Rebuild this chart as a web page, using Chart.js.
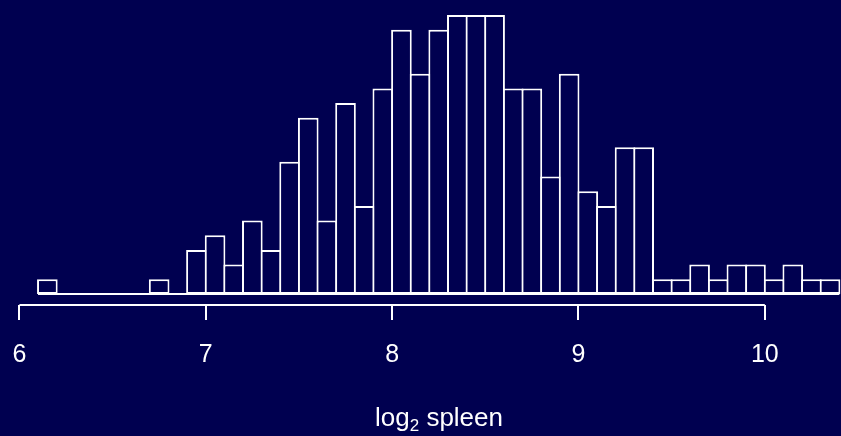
<!DOCTYPE html>
<html>
<head>
<meta charset="utf-8">
<script src="https://cdn.jsdelivr.net/npm/chart.js@4/dist/chart.umd.min.js"></script>
<style>
  html, body { margin: 0; padding: 0; background: #000050; }
</style>
</head>
<body>
<canvas id="spleenChart" width="841" height="436"></canvas>
<script>
// histogram of log2 spleen: left edge of each bin and its count
const binStarts = [6.1, 6.2, 6.3, 6.4, 6.5, 6.6, 6.7, 6.8, 6.9,
                   7.0, 7.1, 7.2, 7.3, 7.4, 7.5, 7.6, 7.7, 7.8, 7.9,
                   8.0, 8.1, 8.2, 8.3, 8.4, 8.5, 8.6, 8.7, 8.8, 8.9,
                   9.0, 9.1, 9.2, 9.3, 9.4, 9.5, 9.6, 9.7, 9.8, 9.9,
                   10.0, 10.1, 10.2, 10.3];
const binCounts = [1, 0, 0, 0, 0, 0, 1, 0, 3,
                   4, 2, 5, 3, 9, 12, 5, 13, 6, 14,
                   18, 15, 18, 19, 19, 19, 14, 14, 8, 15,
                   7, 6, 10, 10, 1, 1, 2, 1, 2, 2,
                   1, 2, 1, 1];
const binWidth = 0.1;
const xTicks = [6, 7, 8, 9, 10];
// axis title "log2 spleen" with the 2 as subscript
const titleParts = ["log", "2", " spleen"];

const BG = "#000050";
const FG = "#ffffff";
const FONT = "'Liberation Sans', Arial, sans-serif";
const LW = 2;

// bars drawn at bin centres
const barData = binStarts.map((s, i) => ({ x: s + binWidth / 2, y: binCounts[i] }));
// zero line under the whole histogram
const baseData = [
  { x: binStarts[0], y: 0 },
  { x: binStarts[binStarts.length - 1] + binWidth, y: 0 }
];

// paint background
const bgPlugin = {
  id: "bg",
  beforeDraw(chart) {
    const ctx = chart.ctx;
    ctx.save();
    ctx.fillStyle = BG;
    ctx.fillRect(0, 0, chart.width, chart.height);
    ctx.restore();
  }
};

// R-style axis line (first to last tick) and the axis title with subscript
const axisPlugin = {
  id: "axisExtras",
  afterDraw(chart) {
    const s = chart.scales.x;
    const ctx = chart.ctx;
    ctx.save();
    ctx.strokeStyle = FG;
    ctx.lineWidth = LW;
    ctx.beginPath();
    ctx.moveTo(s.getPixelForValue(xTicks[0]), s.top);
    ctx.lineTo(s.getPixelForValue(xTicks[xTicks.length - 1]), s.top);
    ctx.stroke();

    // title
    const big = "26px " + FONT, small = "17px " + FONT;
    ctx.fillStyle = FG;
    ctx.textBaseline = "alphabetic";
    ctx.textAlign = "left";
    ctx.font = big;
    const w0 = ctx.measureText(titleParts[0]).width;
    const w2 = ctx.measureText(titleParts[2]).width;
    ctx.font = small;
    const w1 = ctx.measureText(titleParts[1]).width;
    const total = w0 + w1 + w2;
    const cx = 439;
    const base = 426;
    let x = cx - total / 2;
    ctx.font = big;
    ctx.fillText(titleParts[0], x, base);
    x += w0;
    ctx.font = small;
    ctx.fillText(titleParts[1], x, base + 5);
    x += w1;
    ctx.font = big;
    ctx.fillText(titleParts[2], x, base);
    ctx.restore();
  }
};

new Chart(document.getElementById("spleenChart"), {
  type: "bar",
  data: {
    datasets: [
      {
        type: "bar",
        data: barData,
        backgroundColor: BG,
        borderColor: FG,
        borderWidth: LW,
        borderSkipped: false,
        barPercentage: 1.107,
        categoryPercentage: 1
      },
      {
        type: "line",
        data: baseData,
        borderColor: FG,
        borderWidth: LW,
        pointRadius: 0,
        clip: false
      }
    ]
  },
  options: {
    responsive: false,
    animation: false,
    layout: { padding: { left: 0, right: 0, top: 0, bottom: 46 } },
    plugins: {
      legend: { display: false },
      tooltip: { enabled: false }
    },
    scales: {
      x: {
        type: "linear",
        min: 5.8959,
        max: 10.4088,
        offset: false,
        border: { display: false },
        grid: {
          offset: false,
          drawOnChartArea: false,
          drawTicks: true,
          tickLength: 15,
          color: FG,
          lineWidth: LW
        },
        afterBuildTicks(scale) {
          scale.ticks = xTicks.map(v => ({ value: v }));
        },
        afterFit(scale) {
          scale.paddingLeft = 0;
          scale.paddingRight = 0;
        },
        ticks: {
          color: FG,
          padding: 20,
          maxRotation: 0,
          autoSkip: false,
          font: { family: FONT, size: 25 }
        },
        title: { display: false }
      },
      y: {
        display: false,
        min: -0.75,
        max: 20.02
      }
    }
  },
  plugins: [bgPlugin, axisPlugin]
});
</script>
</body>
</html>
